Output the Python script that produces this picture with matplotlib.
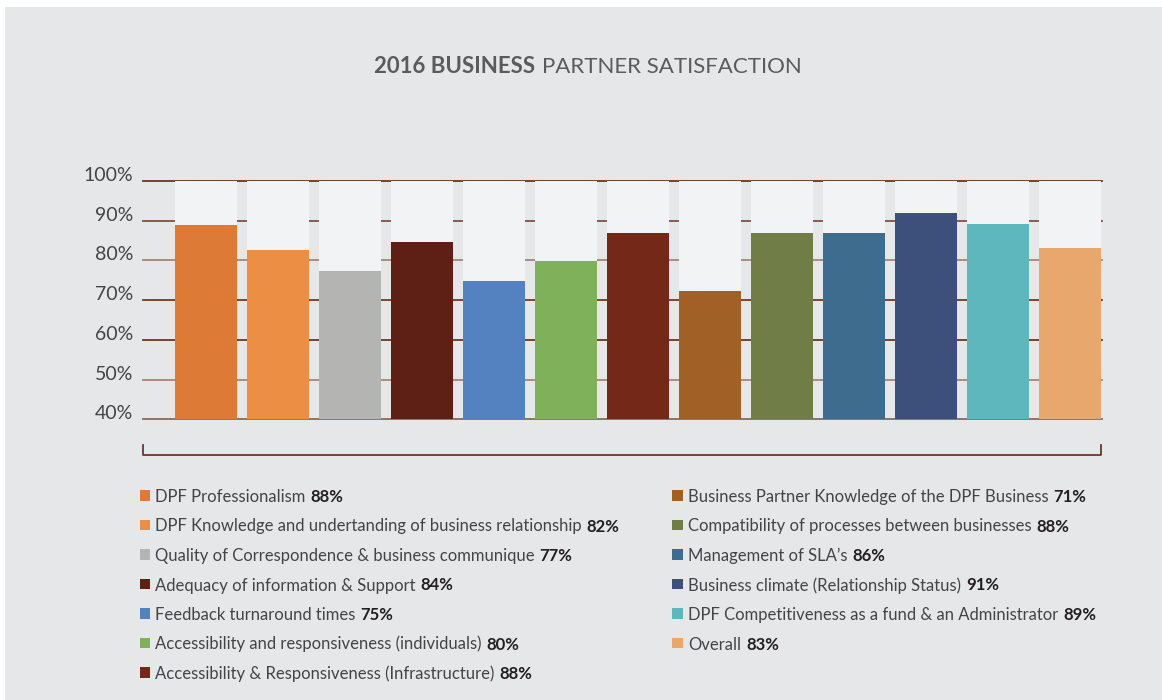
import numpy as np
import matplotlib.pyplot as plt
from matplotlib.patches import Rectangle
from matplotlib.lines import Line2D

W, H = 1162, 700

categories = [
    'DPF Professionalism',
    'DPF Knowledge and undertanding of business relationship',
    'Quality of Correspondence & business communique',
    'Adequacy of information & Support',
    'Feedback turnaround times',
    'Accessibility and responsiveness (individuals)',
    'Accessibility & Responsiveness (Infrastructure)',
    'Business Partner Knowledge of the DPF Business',
    'Compatibility of processes between businesses',
    "Management of SLA\u2019s",
    'Business climate (Relationship Status)',
    'DPF Competitiveness as a fund & an Administrator',
    'Overall',
]
# percentages printed in the legend
label_pct = [88, 82, 77, 84, 75, 80, 88, 71, 88, 86, 91, 89, 83]
# bar heights as drawn
bar_values = [88.9, 82.6, 77.4, 84.7, 74.8, 79.9, 86.9, 72.3, 86.9, 86.9, 92.0, 89.2, 83.1]
colors = ['#dd7a35', '#ec8f45', '#b4b4b2', '#5e1f15', '#5482c1', '#7fb15b', '#742918',
          '#a16026', '#717d46', '#3d6c8f', '#3d507b', '#5fb7be', '#e8a86d']

yticks = [40, 50, 60, 70, 80, 90, 100]
ytick_labels = ['40%', '50%', '60%', '70%', '80%', '90%', '100%']
grid_colors = ['#8c6a58', '#a68574', '#6e3620', '#74391f', '#a68574', '#80523d', '#6b3520']

bg = '#e6e7e8'
FONT = 'Lato'


def fx(x):
    return x / W


def fy(y):
    return 1 - y / H


fig = plt.figure(figsize=(W / 100, H / 100), dpi=100)
fig.patch.set_facecolor('white')
fig.add_artist(Rectangle((fx(5), 0), 1 - fx(5), fy(7), transform=fig.transFigure,
                         facecolor=bg, edgecolor='none', zorder=-10))

# main bar axes (pixel layout: 143..1102 wide, 100% at y=181, 40% at y=419)
ax = fig.add_axes([fx(143), fy(419.3), fx(959), (419.3 - 181) / H])
ax.set_facecolor('none')
ax.set_xlim(-0.875, -0.875 + 959 / 72)
ax.set_ylim(40, 100)
for s in ax.spines.values():
    s.set_visible(False)

for y, c in zip(yticks, grid_colors):
    ax.axhline(y, color=c, lw=1.3, zorder=0, clip_on=False)

x = np.arange(len(bar_values))
ax.bar(x, 60, bottom=40, width=62 / 72, color='#f2f3f5', zorder=1)
ax.bar(x, np.array(bar_values) - 40, bottom=40, width=62 / 72, color=colors, zorder=2)

ax.set_xticks([])
ax.set_yticks(yticks)
ax.set_yticklabels(ytick_labels, fontsize=14, color='#444444', family=FONT)
ax.tick_params(axis='y', length=0, pad=7)
for lab in ax.get_yticklabels():
    lab.set_va('baseline')

# bracket under the chart
bx = [143, 143, 1101, 1101]
by = [445, 455, 455, 445]
fig.add_artist(Line2D([fx(v) for v in bx], [fy(v) for v in by], transform=fig.transFigure,
                      color='#6e3820', lw=1.3))

renderer = fig.canvas.get_renderer()

# title with mixed weights
title_c = '#5b5b5d'
t1 = fig.text(0, fy(73), '2016 BUSINESS', fontsize=16, fontweight='bold', color=title_c,
              family=FONT, va='baseline')
t2 = fig.text(0, fy(73), 'PARTNER SATISFACTION', fontsize=16, color=title_c,
              family=FONT, va='baseline')
w1 = t1.get_window_extent(renderer).width
w2 = t2.get_window_extent(renderer).width
gap = 7
x0 = 587.5 - (w1 + gap + w2) / 2
t1.set_x(fx(x0))
t2.set_x(fx(x0 + w1 + gap))

# legend in two columns
rows = 7
for i, (name, pct, c) in enumerate(zip(categories, label_pct, colors)):
    col, row = divmod(i, rows)
    base = 502 + row * 29.5
    sx = 139.5 if col == 0 else 672
    tx = 155 if col == 0 else 688
    fig.add_artist(Rectangle((fx(sx), fy(base - 1.5)), 10.5 / W, 10.5 / H,
                             transform=fig.transFigure, facecolor=c, edgecolor='none'))
    t = fig.text(fx(tx), fy(base), name, fontsize=12, color='#444444',
                 family=FONT, va='baseline')
    tw = t.get_window_extent(renderer).width
    fig.text(fx(tx + tw + 5), fy(base), f'{pct}%', fontsize=12, fontweight='bold',
             color='#231f20', family=FONT, va='baseline')

fig.savefig('out.png', dpi=100, facecolor=fig.get_facecolor())
